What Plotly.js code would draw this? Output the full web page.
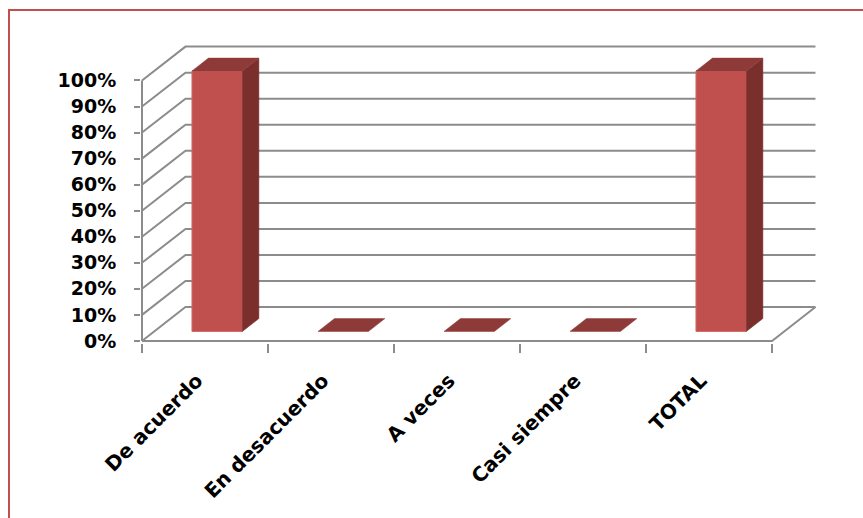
<!DOCTYPE html>
<html>
<head>
<meta charset="utf-8">
<script src="https://cdn.plot.ly/plotly-3.0.1.min.js"></script>
<style>html,body{margin:0;padding:0;background:#fff;}#chart{width:863px;height:518px;}</style>
</head>
<body>
<div id="chart"></div>
<script>
// ---- data ----
const categories = ['De acuerdo', 'En desacuerdo', 'A veces', 'Casi siempre', 'TOTAL'];
const values = [1, 0, 0, 0, 1];
const tickVals = [0, 0.1, 0.2, 0.3, 0.4, 0.5, 0.6, 0.7, 0.8, 0.9, 1];
const tickText = ['0%', '10%', '20%', '30%', '40%', '50%', '60%', '70%', '80%', '90%', '100%'];

// ---- 3D projection settings (data units) ----
const DX = 0.345, DY = 0.13;     // floor depth offset
const F0 = 0.28, F1 = 0.66;      // bar front/back depth fractions
const BW = 0.4;                  // bar width
const xMin = -0.5, xMax = categories.length - 0.5;

const GRID = '#8c8c8c';
const traces = [];

// gridlines: side wall diagonal + back wall horizontal
const gx = [], gy = [];
tickVals.forEach(v => {
  gx.push(xMin, xMin + DX, xMax + DX, null);
  gy.push(v, v + DY, v + DY, null);
});
// floor front + right edges, and front vertical axis
gx.push(xMin, xMax, xMax + DX, null, xMin, xMin);
gy.push(0, 0, DY, null, 0, tickVals[tickVals.length - 1]);
traces.push({x: gx, y: gy, mode: 'lines', line: {color: GRID, width: 2}, hoverinfo: 'skip', xaxis: 'x', yaxis: 'y'});

// bars
const ox0 = F0 * DX, oy0 = F0 * DY, ox1 = F1 * DX, oy1 = F1 * DY;
values.forEach((v, i) => {
  const x0 = i - BW / 2, x1 = i + BW / 2;
  if (v > 0) {
    traces.push({ // front
      x: [x0 + ox0, x1 + ox0, x1 + ox0, x0 + ox0, x0 + ox0],
      y: [oy0, oy0, v + oy0, v + oy0, oy0],
      mode: 'lines', fill: 'toself', fillcolor: '#C0504D',
      line: {color: '#d06a66', width: 1}, hoverinfo: 'skip'
    });
    traces.push({ // side
      x: [x1 + ox0, x1 + ox1, x1 + ox1, x1 + ox0, x1 + ox0],
      y: [oy0, oy1, v + oy1, v + oy0, oy0],
      mode: 'lines', fill: 'toself', fillcolor: '#7B2F2D',
      line: {color: '#7B2F2D', width: 0.5}, hoverinfo: 'skip'
    });
  }
  traces.push({ // top
    x: [x0 + ox0, x1 + ox0, x1 + ox1, x0 + ox1, x0 + ox0],
    y: [v + oy0, v + oy0, v + oy1, v + oy1, v + oy0],
    mode: 'lines', fill: 'toself', fillcolor: '#8E3A38',
    line: {color: '#8E3A38', width: 0.5}, hoverinfo: 'skip'
  });
});

// invisible trace for boundary tick axis
traces.push({x: [xMin], y: [0], xaxis: 'x2', yaxis: 'y', mode: 'markers', marker: {opacity: 0}, hoverinfo: 'skip'});

const L = 141, R = 46, T = 44, B = 175, W = 863, H = 518;
const pw = W - L - R, ph = H - T - B;
const xr = [xMin - 1 / 126, xMin - 1 / 126 + pw / 126];
const yr = [-0.008, 1.14];
const boundaries = [];
for (let k = 0; k <= categories.length; k++) boundaries.push(xMin + k);

const yFont = {family: 'DejaVu Sans', size: 19, color: '#000', weight: 'bold'};
const xFont = {family: 'DejaVu Sans', size: 20, color: '#000', weight: 'bold'};

const layout = {
  width: W, height: H,
  margin: {l: L, r: R, t: T, b: B, pad: 0},
  paper_bgcolor: '#fff', plot_bgcolor: 'rgba(0,0,0,0)',
  showlegend: false, hovermode: false,
  xaxis: {
    range: xr, showgrid: false, zeroline: false, showline: false,
    tickmode: 'array', tickvals: categories.map((c, i) => i), ticktext: categories,
    ticks: '', tickangle: -45, tickfont: xFont, ticklabelstandoff: 21, ticklabelshift: -8
  },
  xaxis2: {
    range: xr, overlaying: 'x', side: 'bottom', showgrid: false, zeroline: false, showline: false,
    tickmode: 'array', tickvals: boundaries, showticklabels: false,
    ticks: 'outside', ticklen: 9, tickwidth: 2, tickcolor: GRID
  },
  yaxis: {
    range: yr, showgrid: false, zeroline: false, showline: false,
    tickmode: 'array', tickvals: tickVals, ticktext: tickText,
    ticks: 'outside', ticklen: 6, tickwidth: 2, tickcolor: GRID,
    tickfont: yFont, ticklabelstandoff: 14
  },
  shapes: [{
    type: 'rect', xref: 'paper', yref: 'paper',
    x0: (9 - L) / pw, x1: (880 - L) / pw,
    y0: (H - B - 540) / ph, y1: (H - B - 10) / ph,
    line: {color: '#C0504D', width: 2}, fillcolor: 'rgba(0,0,0,0)', layer: 'below'
  }]
};

Plotly.newPlot('chart', traces, layout, {displayModeBar: false, staticPlot: true});
</script>
</body>
</html>
